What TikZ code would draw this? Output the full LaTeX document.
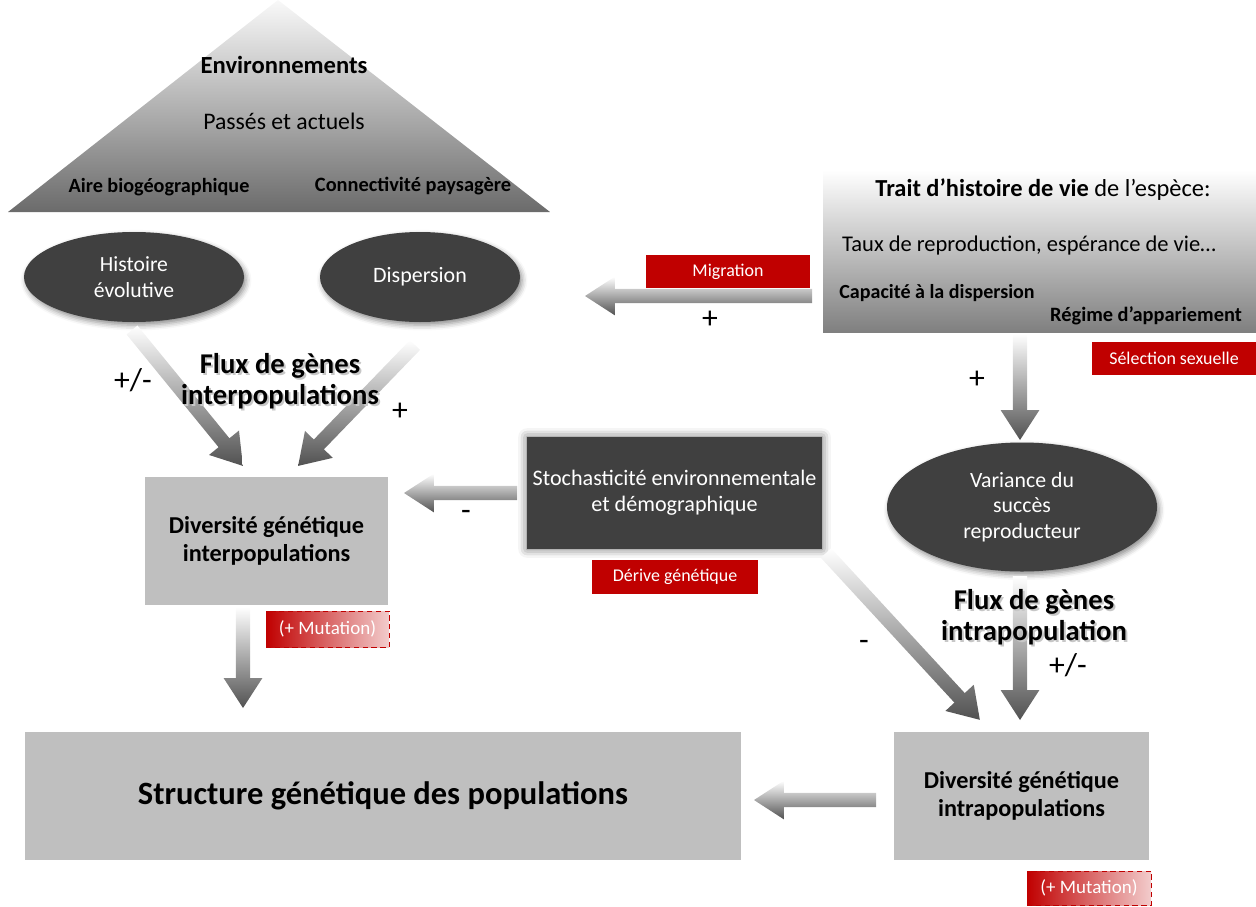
\documentclass[tikz,border=0pt]{standalone}
\usepackage{fontspec}
\setmainfont{Carlito}
\usetikzlibrary{shapes.geometric,shadows,shadows.blur}

\definecolor{darkfill}{HTML}{404040}
\definecolor{boxgray}{HTML}{BFBFBF}
\definecolor{redlabel}{HTML}{C00000}

% block arrow with a grey gradient, from #1 to #2
\newcommand\flowarrow[2]{%
  \path let \p1=(#1), \p2=(#2), \n1={atan2(\y2-\y1,\x2-\x1)}, \n2={veclen(\x2-\x1,\y2-\y1)} in
    \pgfextra{\xdef\fang{\n1}\xdef\flen{\n2}};
  \shade[top color=white, bottom color=black!68, shift={(#1)}, rotate=\fang]
    (0pt,-4pt) -- ({\flen-17pt},-4pt) -- ({\flen-17pt},-11pt) -- (\flen,0pt)
    -- ({\flen-17pt},11pt) -- ({\flen-17pt},4pt) -- (0pt,4pt) -- cycle;
}

\begin{document}
\begin{tikzpicture}[x=0.2mm,y=-0.2mm,
    darkell/.style={ellipse, fill=darkfill, text=white, align=center, inner sep=0pt,
      blur shadow={shadow xshift=1.2pt, shadow yshift=-1.8pt, shadow blur radius=3pt, shadow opacity=45}},
    graybox/.style={rectangle, fill=boxgray, align=center, inner sep=0pt},
    redtag/.style={rectangle, fill=redlabel, text=white, inner sep=0pt,
      font=\fontsize{10.2}{12}\selectfont},
    mutbox/.style={rectangle, draw=redlabel, densely dashed, left color=redlabel,
      middle color=redlabel!85, right color=redlabel!20, text=white, inner sep=0pt,
      font=\fontsize{10.8}{12}\selectfont},
    signlabel/.style={font=\fontsize{18}{20}\selectfont},
    fluxtitle/.style={font=\bfseries\fontsize{16.3}{17.6}\selectfont, align=center},
  ]
  \useasboundingbox (0,0) rectangle (1256,906);

  % Environnements
  \shade[top color=gray!5, bottom color=black!58] (278,0) -- (550,212) -- (8,212) -- cycle;
  \node[font=\bfseries\fontsize{14}{16}\selectfont] (env) at (284,65) {Environnements};
  \node[font=\fontsize{13.5}{16}\selectfont] (passes) at (284,121) {Passés et actuels};
  \node[font=\bfseries\fontsize{11.5}{13}\selectfont] (aire) at (159,187) {Aire biogéographique};
  \node[font=\bfseries\fontsize{11.6}{13}\selectfont] (connect) at (413,186) {Connectivité paysagère};

  \node[darkell, minimum width=44mm, minimum height=18mm, font=\fontsize{12.3}{14.5}\selectfont]
    (histoire) at (134,277) {Histoire\\évolutive};
  \node[darkell, minimum width=40mm, minimum height=18mm, font=\fontsize{12.5}{14.5}\selectfont]
    (dispersion) at (420,277) {Dispersion};

  % Trait d'histoire de vie
  \node[rectangle, top color=white, bottom color=black!50, minimum width=86.6mm,
    minimum height=32.4mm, inner sep=0pt] (trait) at (1039.5,251) {};
  \node[font=\fontsize{13.9}{16}\selectfont] (traittitle) at (1043,190)
    {\textbf{Trait d’histoire de vie} de l’espèce:};
  \node[font=\fontsize{12.8}{15}\selectfont] (taux) at (1029,245)
    {Taux de reproduction, espérance de vie…};
  \node[font=\bfseries\fontsize{11.4}{13}\selectfont] (capacite) at (937,293)
    {Capacité à la dispersion};
  \node[font=\bfseries\fontsize{11.6}{13}\selectfont] (regime) at (1146,316)
    {Régime d’appariement};

  \node[redtag, minimum width=32.8mm, minimum height=6.6mm] (migration) at (728,271.5) {Migration};
  \node[redtag, minimum width=32.8mm, minimum height=6.6mm] (selection) at (1174,358.5) {Sélection sexuelle};

  \node[darkell, minimum width=54mm, minimum height=25.8mm, font=\fontsize{12.4}{14.5}\selectfont]
    (variance) at (1022,507) {Variance du\\succès\\reproducteur};

  \node[graybox, minimum width=48.6mm, minimum height=25.6mm, font=\bfseries\fontsize{13.8}{16}\selectfont]
    (inter) at (266.5,541) {Diversité génétique\\interpopulations};
  \node[mutbox, minimum width=24.6mm, minimum height=7.2mm] (mutinter) at (327.5,629) {(+ Mutation)};

  \node[rectangle, fill=darkfill, text=white, align=center, inner sep=0pt,
    minimum width=59mm, minimum height=22.4mm, font=\fontsize{12.6}{14.8}\selectfont,
    blur shadow={shadow xshift=0pt, shadow yshift=0pt, shadow blur radius=5pt, shadow opacity=60}]
    (stoch) at (674.5,493) {Stochasticité environnementale\\et démographique};
  \node[redtag, minimum width=33.2mm, minimum height=6.8mm] (derive) at (675,577) {Dérive génétique};

  \node[graybox, minimum width=51mm, minimum height=25.6mm, font=\bfseries\fontsize{13.8}{16}\selectfont]
    (intra) at (1021.5,796) {Diversité génétique\\intrapopulations};
  \node[mutbox, minimum width=24.8mm, minimum height=6.8mm] (mutintra) at (1089,888) {(+ Mutation)};

  \node[graybox, minimum width=143.2mm, minimum height=25.6mm, font=\bfseries\fontsize{18.5}{20}\selectfont]
    (structure) at (383,796) {Structure génétique des populations};

  % arrows
  \coordinate (migA) at (812,296);   \coordinate (migB) at (585,296);
  \coordinate (traitA) at (1020,334); \coordinate (traitB) at (1020,440);
  \coordinate (histA) at (132,330);  \coordinate (histB) at (243,466);
  \coordinate (dispA) at (415,345);  \coordinate (dispB) at (298,466);
  \coordinate (stochA) at (517,493); \coordinate (stochB) at (404,493);
  \coordinate (driftA) at (826,553); \coordinate (driftB) at (980,720);
  \coordinate (varA) at (1020,576);  \coordinate (varB) at (1020,720);
  \coordinate (interA) at (243,607); \coordinate (interB) at (243,708);
  \coordinate (intraA) at (876,800); \coordinate (intraB) at (754,800);
  \flowarrow{migA}{migB}
  \flowarrow{traitA}{traitB}
  \flowarrow{histA}{histB}
  \flowarrow{dispA}{dispB}
  \flowarrow{stochA}{stochB}
  \flowarrow{driftA}{driftB}
  \flowarrow{varA}{varB}
  \flowarrow{interA}{interB}
  \flowarrow{intraA}{intraB}

  % Flux de genes
  \node[fluxtitle, text=black!22] (fluxintersh) at (282,383.5) {Flux de gènes\\interpopulations};
  \node[fluxtitle] (fluxinter) at (280,381) {Flux de gènes\\interpopulations};
  \node[fluxtitle, text=black!22] (fluxintrash) at (1036,619.5) {Flux de gènes\\intrapopulation};
  \node[fluxtitle] (fluxintra) at (1034,617) {Flux de gènes\\intrapopulation};

  % signs
  \node[signlabel] (s1) at (710,320) {+};
  \node[signlabel] (s2) at (977,380) {+};
  \node[signlabel] (s3) at (133,380) {+/-};
  \node[signlabel] (s4) at (400,412) {+};
  \node[signlabel] (s5) at (466,515) {-};
  \node[signlabel] (s6) at (864,645) {-};
  \node[signlabel] (s7) at (1068,665) {+/-};
\end{tikzpicture}
\end{document}
